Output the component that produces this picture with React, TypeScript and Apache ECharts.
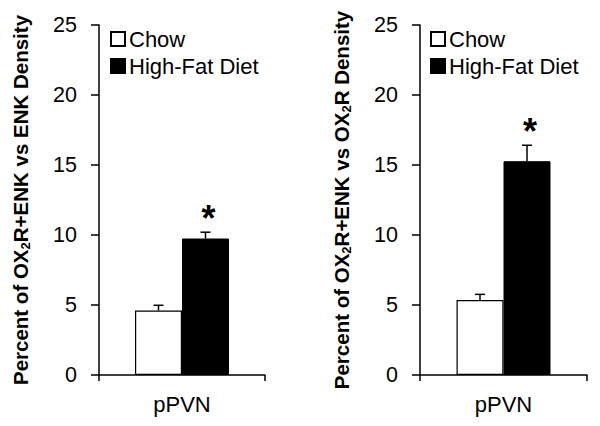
import React, { useEffect, useRef } from "react";
import * as echarts from "echarts";

const categories = ["pPVN"];
const seriesNames = ["Chow", "High-Fat Diet"];

// Left panel: Percent of OX2R+ENK vs ENK Density
const leftChow = [4.6];
const leftChowErr = [0.38];
const leftHfd = [9.75];
const leftHfdErr = [0.45];
const leftHfdMarks = ["*"];

// Right panel: Percent of OX2R+ENK vs OX2R Density
const rightChow = [5.36];
const rightChowErr = [0.4];
const rightHfd = [15.27];
const rightHfdErr = [1.14];
const rightHfdMarks = ["*"];

const yMin = 0;
const yMax = 25;
const yInterval = 5;

const FONT = "Liberation Sans";
const BAR_W = 47;

function errorSeries(
  axisIdx: number,
  values: number[],
  errs: number[],
  side: number,
  marks: string[] | null
) {
  return {
    type: "custom",
    xAxisIndex: axisIdx,
    yAxisIndex: axisIdx,
    silent: true,
    z: 5,
    data: values.map((v, i) => [i, v, errs[i]]),
    encode: { x: 0, y: 1 },
    renderItem: (params: any, api: any) => {
      const x = api.value(0);
      const v = api.value(1);
      const e = api.value(2);
      const base = api.coord([x, v]);
      const top = api.coord([x, v + e]);
      const cx = base[0] + (side * BAR_W) / 2;
      const children: any[] = [
        {
          type: "line",
          shape: { x1: cx, y1: base[1], x2: cx, y2: top[1] },
          style: { stroke: "#000", lineWidth: 1.5 },
        },
        {
          type: "line",
          shape: { x1: cx - 5, y1: top[1], x2: cx + 5, y2: top[1] },
          style: { stroke: "#000", lineWidth: 1.5 },
        },
      ];
      const m = marks ? marks[params.dataIndex] : "";
      if (m) {
        children.push({
          type: "text",
          style: {
            text: m,
            x: cx + 3,
            y: top[1] - 14,
            align: "center",
            verticalAlign: "middle",
            fontSize: 36,
            fontWeight: "bold",
            fontFamily: FONT,
            fill: "#000",
          },
        });
      }
      return { type: "group", children };
    },
  };
}

const App: React.FC = () => {
  const ref = useRef<HTMLDivElement>(null);

  useEffect(() => {
    if (!ref.current) return;
    const chart = echarts.init(ref.current, null, { renderer: "svg" });

    const rich = {
      a: { fontSize: 20.5, fontWeight: "bold", fontFamily: FONT, color: "#000", lineHeight: 24 },
      s: { fontSize: 13, fontWeight: "bold", fontFamily: FONT, color: "#000", lineHeight: 13, verticalAlign: "bottom" },
    };

    const xAxisBase = {
      type: "category",
      data: categories,
      boundaryGap: true,
      axisLine: { lineStyle: { color: "#000", width: 1.5 } },
      axisTick: { show: true, length: 6, lineStyle: { color: "#000", width: 1.5 } },
      axisLabel: { color: "#000", fontSize: 22, fontFamily: FONT, margin: 18 },
      splitLine: { show: false },
    };

    const yAxisBase = {
      type: "value",
      min: yMin,
      max: yMax,
      interval: yInterval,
      nameLocation: "middle",
      nameRotate: 90,
      nameGap: 67,
      nameTextStyle: { rich },
      axisLine: { show: true, lineStyle: { color: "#000", width: 1.5 } },
      axisTick: { show: true, length: 8, lineStyle: { color: "#000", width: 1.5 } },
      axisLabel: { color: "#000", fontSize: 21.5, fontFamily: FONT, margin: 22 },
      splitLine: { show: false },
    };

    const legendBase = {
      orient: "vertical",
      padding: 0,
      itemWidth: 14,
      itemHeight: 14,
      itemGap: 5,
      icon: "rect",
      selectedMode: false,
      data: seriesNames,
      textStyle: { color: "#000", fontSize: 22, fontFamily: FONT, padding: [0, 0, 0, -1] },
    };

    const chowStyle = { color: "#fff", borderColor: "#000", borderWidth: 1.2 };
    const hfdStyle = { color: "#000", borderColor: "#000", borderWidth: 1 };

    chart.setOption({
      animation: false,
      backgroundColor: "#fff",
      textStyle: { fontFamily: FONT },
      grid: [
        { left: 99, top: 25, width: 166, height: 350 },
        { left: 420, top: 25, width: 167, height: 350 },
      ],
      legend: [
        { ...legendBase, left: 110, top: 28 },
        { ...legendBase, left: 430, top: 28 },
      ],
      xAxis: [
        { ...xAxisBase, gridIndex: 0 },
        { ...xAxisBase, gridIndex: 1 },
      ],
      yAxis: [
        { ...yAxisBase, gridIndex: 0, name: "{a|Percent of OX}{s|2}{a|R+ENK vs ENK Density}" },
        { ...yAxisBase, gridIndex: 1, name: "{a|Percent of OX}{s|2}{a|R+ENK vs OX}{s|2}{a|R Density}" },
      ],
      series: [
        { name: seriesNames[0], type: "bar", xAxisIndex: 0, yAxisIndex: 0, data: leftChow, barWidth: BAR_W, barGap: "0%", itemStyle: chowStyle },
        { name: seriesNames[1], type: "bar", xAxisIndex: 0, yAxisIndex: 0, data: leftHfd, barWidth: BAR_W, barGap: "0%", itemStyle: hfdStyle },
        { name: seriesNames[0], type: "bar", xAxisIndex: 1, yAxisIndex: 1, data: rightChow, barWidth: BAR_W, barGap: "0%", itemStyle: chowStyle },
        { name: seriesNames[1], type: "bar", xAxisIndex: 1, yAxisIndex: 1, data: rightHfd, barWidth: BAR_W, barGap: "0%", itemStyle: hfdStyle },
        errorSeries(0, leftChow, leftChowErr, -1, null),
        errorSeries(0, leftHfd, leftHfdErr, 1, leftHfdMarks),
        errorSeries(1, rightChow, rightChowErr, -1, null),
        errorSeries(1, rightHfd, rightHfdErr, 1, rightHfdMarks),
      ],
    } as any);

    return () => chart.dispose();
  }, []);

  return <div ref={ref} style={{ width: 600, height: 426, position: "absolute", left: 0, top: 0 }} />;
};

export default App;
